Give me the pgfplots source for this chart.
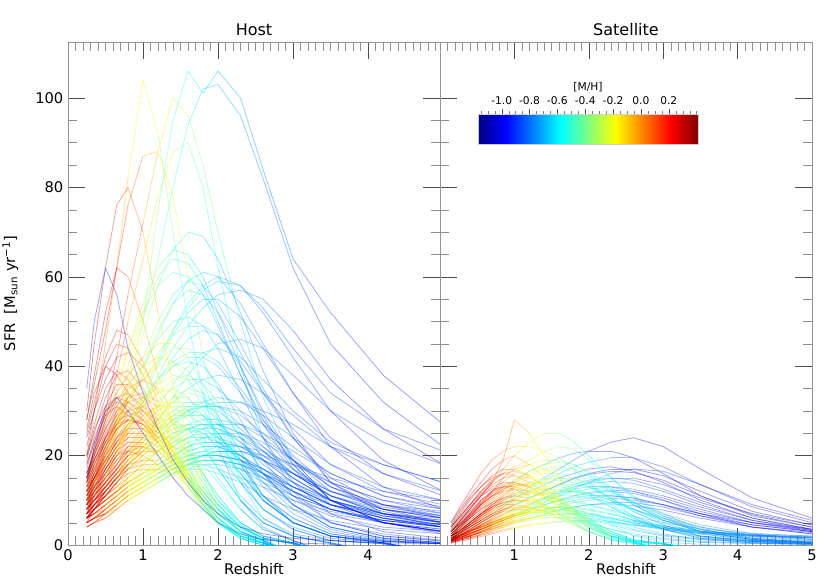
\documentclass[border=0pt]{standalone}
\usepackage{fontspec}
\setmainfont{DejaVu Sans}
\usepackage{pgfplots}
\usepackage{pgfplotstable}
\pgfplotsset{compat=1.18}
\pgfplotsset{
  /pgf/number format/assume math mode=true,
  sfr/.style={mesh, point meta=\thisrow{#1}, line width=0.6pt, opacity=0.38},
  panel/.style={
    scale only axis, width=279pt, height=377.25pt,
    ymin=0, ymax=112.5,
    ytick={0,20,40,60,80,100}, minor y tick num=3,
    xtick={0,1,2,3,4,5}, minor x tick num=9,
    tick align=inside, xtick pos=both, ytick pos=both,
    major tick length=13pt, minor tick length=6.5pt,
    axis line style={gray!85},
    major tick style={black!70},
    minor tick style={black!45},
    colormap/jet, point meta min=-1.17, point meta max=0.41,
    tick label style={font=\fontsize{11}{13}\selectfont},
    label style={font=\fontsize{11}{13}\selectfont},
    title style={font=\fontsize{12}{14}\selectfont, yshift=-4.5pt},
    xlabel style={yshift=5pt},
    xlabel={Redshift},
  }
}
\pgfplotstableread{
name c1 c2 c3 c4 c5 c6 c7 c8 c9 c10 c11 c12 c13 c14 c15 c16 c17
z 0.25 0.35 0.5 0.65 0.8 1.0 1.2 1.4 1.6 1.8 2.0 2.3 2.6 3.0 3.5 4.2 5.0
P0 0.30 0.26 0.18 0.10 0.02 -0.08 -0.19 -0.29 -0.39 -0.48 -0.56 -0.66 -0.73 -0.79 -0.83 -0.86 -0.88
P1 0.40 0.36 0.28 0.20 0.12 0.02 -0.09 -0.19 -0.29 -0.38 -0.46 -0.58 -0.66 -0.73 -0.78 -0.82 -0.85
P2 0.18 0.14 0.06 -0.02 -0.10 -0.20 -0.31 -0.41 -0.51 -0.60 -0.68 -0.75 -0.80 -0.84 -0.87 -0.89 -0.91
P3 0.10 0.05 -0.03 -0.12 -0.20 -0.30 -0.40 -0.50 -0.58 -0.64 -0.70 -0.76 -0.81 -0.87 -0.93 -0.98 -1.02
P4 -0.95 -0.95 -0.95 -0.95 -0.95 -0.95 -0.98 -1.00 -1.02 -1.04 -1.06 -1.08 -1.10 -1.10 -1.10 -1.10 -1.10
E1 8 11 15 19 21 22 21 18 14 9 5 1.5 0 -2 -2 -2 -2
E2 12 16 22 26 28 27 24 20 15 10 6 2 0.5 -2 -2 -2 -2
E3 16 21 28 33 34 31 26 20 14 9 5 1.5 0 -2 -2 -2 -2
E4 20 25 33 38 39 35 28 21 15 9 5 1.5 0 -2 -2 -2 -2
E5 6 9 13 16 18 19 19 17 14 10 6 2 0.5 -2 -2 -2 -2
E6 10 14 19 23 25 25 23 19 15 11 7 3 1 -2 -2 -2 -2
E7 14 19 25 29 30 28 24 19 14 9 5 2 0.5 -2 -2 -2 -2
E8 25 32 42 48 47 41 32 23 16 10 5 1.5 0 -2 -2 -2 -2
E9 9 13 18 22 24 24 22 19 16 12 8 4 1.5 0.5 -2 -2 -2
E10 18 24 30 32 31 28 24 20 16 12 8 4 1.5 0.3 -2 -2 -2
E11 11 15 21 26 29 30 28 24 19 14 9 4 1.5 0.3 -2 -2 -2
E12 22 30 40 45 44 38 30 22 15 9 5 2 0.5 -2 -2 -2 -2
E13 7 10 14 17 20 21 21 20 17 13 9 4 1.5 0.3 -2 -2 -2
E14 15 20 26 30 33 34 32 28 22 16 10 5 2 0.5 -2 -2 -2
E15 28 38 52 62 60 50 38 27 18 11 6 2 0.5 -2 -2 -2 -2
E16 30 45 62 76 80 70 52 36 24 15 8 3 1 -2 -2 -2 -2
E17 13 18 24 28 29 27 23 18 13 8 4.5 1.5 0.3 -2 -2 -2 -2
E18 9 12 17 21 23 23 21 18 14 10 6 2.5 0.8 -2 -2 -2 -2
E19 17 23 31 36 36 33 27 21 15 10 6 2 0.5 -2 -2 -2 -2
E20 6 8 11 14 16 17 17 16 13 9 5.5 2 0.5 -2 -2 -2 -2
E21 20 27 35 39 37 32 26 20 14 9 5 2 0.5 -2 -2 -2 -2
E22 12 17 23 27 30 31 29 25 20 14 9 4 1.5 0.3 -2 -2 -2
E23 8 12 17 20 21 20 18 15 12 8 5 2 0.5 -2 -2 -2 -2
E24 24 30 37 42 43 40 34 27 20 13 8 3 1 -2 -2 -2 -2
E25 10 15 22 28 32 33 31 27 21 15 10 4.5 1.5 0.3 -2 -2 -2
E26 15 19 24 27 28 27 25 22 18 13 9 4 1.5 0.3 -2 -2 -2
E27 7 11 16 20 22 22 20 17 13 8.5 5 1.5 0 -2 -2 -2 -2
E28 19 26 31 33 32 29 25 20 15 10 6 2.5 0.5 -2 -2 -2 -2
E29 10 13 18 24 27 28 26 22 17 12 7 3 1 -2 -2 -2 -2
E30 14 22 29 31 29 26 23 19 15 11 7 3 1 -2 -2 -2 -2
E31 5 8 12 15 17 18 18 17 15 11 7 3 1 -2 -2 -2 -2
E32 26 34 40 38 34 30 26 21 16 11 7 3 1 -2 -2 -2 -2
E33 12 15 20 24 26 26 24 21 17 12 8 3.5 1.2 -2 -2 -2 -2
E34 9 14 21 26 28 27 23 18 13 9 5 2 0.5 -2 -2 -2 -2
E35 16 20 26 31 35 37 35 30 23 16 10 4.5 1.5 -2 -2 -2 -2
E36 11 16 24 30 32 30 26 21 16 11 7 3 1 -2 -2 -2 -2
M1 6 8 10 12 14 16 17 17 15 12 8 3 1 -2 -2 -2 -2
M2 8 10 13 16 19 22 24 24 21 16 11 5 2 0.5 -2 -2 -2
M3 10 13 17 21 25 29 31 31 28 23 17 10 5 2 0.5 -2 -2
M4 12 15 19 23 27 31 34 35 33 29 24 16 10 5 2 0.5 -2
M5 7 9 12 15 18 21 24 26 26 24 20 14 8 4 1.5 0.5 -2
M6 14 18 23 27 30 33 35 34 30 24 18 11 6 2.5 1 0.3 -2
M7 9 12 15 18 21 24 27 29 29 27 23 16 10 5 2 0.8 0.3
M8 16 21 27 32 36 40 42 41 37 31 24 15 8 3.5 1 0.3 -2
M9 11 14 18 22 26 30 34 37 38 36 32 24 16 9 4 1.5 0.5
M10 8 10 13 16 20 24 28 32 34 33 29 21 13 7 3 1 0.3
M11 13 17 22 27 32 37 41 44 44 41 35 25 16 9 4 1.5 0.5
M12 10 13 16 19 22 25 28 30 30 28 25 19 14 9 5 2.5 1
M13 6 8 11 14 17 20 22 22 20 16 11 5 2 0.5 -2 -2 -2
M14 18 23 29 34 38 42 45 45 42 36 29 19 11 5 2 0.5 -2
M15 9 11 14 17 20 23 26 27 26 22 17 10 5 2 0.5 -2 -2
M16 12 15 19 23 26 29 31 32 30 26 21 14 8 3.5 1 0.3 -2
M17 7 9 12 15 18 22 26 29 30 29 25 18 11 6 2.5 0.8 0.3
M18 15 19 24 29 33 37 40 41 39 34 28 19 11 5 2 0.5 -2
M19 10 12 15 18 21 24 26 27 27 25 22 16 10 5 2 0.8 0.3
M20 8 11 14 18 22 26 30 33 35 34 31 24 16 9 4 1.5 0.5
M21 14 17 21 25 29 33 37 40 41 40 36 28 19 11 5 2 0.8
M22 11 14 18 22 27 32 37 42 46 48 47 40 30 19 10 5 2.5
M23 13 17 22 28 34 40 46 50 51 49 44 34 24 14 7 3 1.5
M24 9 12 16 20 23 26 28 28 26 22 17 10 5 2 0.3 -2 -2
M25 11 14 18 22 25 28 31 33 33 30 25 17 10 5 2 0.5 -2
M26 7 9 12 15 18 21 23 24 23 20 15 8 3.5 1 -2 -2 -2
M27 13 16 20 24 28 32 36 38 37 33 27 18 10 5 2 0.5 -2
M28 8 10 13 17 21 25 29 31 31 29 25 18 11 6 2.5 1 0.3
M29 10 13 17 21 24 27 30 32 32 31 28 21 14 8 3.5 1.2 0.4
M30 6 8 11 14 17 19 21 22 21 18 14 8 3.5 1 -2 -2 -2
L1 5 6 8 10 12 14 16 18 19 20 20 19 17 14 10 7 5
L2 7 9 11 13 15 18 21 24 26 27 27 25 22 17 12 8 6
L3 9 11 14 17 20 23 27 30 32 32 31 27 22 16 11 7 5
L4 6 8 10 12 14 16 19 22 24 26 27 27 25 21 16 11 8
L5 10 13 16 20 24 28 32 35 37 37 35 30 24 17 11 7 5
L6 8 10 13 15 18 21 24 27 30 32 33 32 29 24 18 13 10
L7 12 15 19 23 27 32 37 41 43 43 41 35 28 20 13 8 6
L8 5 6 8 10 12 14 16 18 20 21 22 22 21 18 14 10 7
L9 7 9 11 14 17 20 23 25 26 26 24 20 16 11 7 5 3.5
L10 14 18 23 28 33 38 43 47 49 49 47 41 34 26 18 12 9
L11 6 7 9 11 13 15 17 19 20 20 19 17 14 11 8 5.5 4
L12 9 11 14 17 20 24 28 32 35 37 38 37 34 29 22 16 12
L13 11 14 18 22 26 31 36 40 42 42 40 34 27 19 12 8 6
L14 4 5 7 9 11 13 15 17 19 20 21 21 20 18 15 12 10
L15 8 10 12 15 18 21 24 27 29 31 32 32 30 27 22 18 14
L16 10 12 15 18 22 26 31 36 40 43 44 42 37 30 23 18 14
L17 7 9 12 15 19 23 28 33 38 42 45 46 44 38 30 23 18
L18 12 15 20 25 30 36 42 48 53 57 59 58 53 44 34 26 21
L19 6 8 10 12 14 16 18 20 21 22 22 20 17 13 9 6 4.5
L20 8 10 13 16 19 22 26 29 31 31 30 26 21 15 10 6.5 4.5
T1 5 6 7 9 11 13 15 17 18 19 19 18 16 13 9 6 4
T2 6 7 9 11 13 15 17 19 21 22 22 20 17 12 8 5 3
T3 4 5 6 8 10 12 14 16 18 19 19 18 15 11 8 5.5 4
T4 7 9 11 14 17 20 23 25 26 25 23 19 15 10 6.5 4 3
T5 5 6 8 10 12 14 16 17 18 18 17 15 13 10 7.5 5.5 4.5
T6 8 10 12 15 18 21 24 26 27 27 26 23 19 14 9 6 4
T7 6 8 10 12 15 18 21 24 26 27 27 25 21 16 11 8 6.5
T8 5 6 7 9 11 13 15 16 17 17 16 14 11 8 5.5 3.5 2.5
T9 9 11 14 17 20 23 26 28 29 29 27 23 18 13 9 7 6
T10 6 7 9 11 13 15 17 19 20 21 21 21 19 16 12 9 7.5
T11 5 6 7 8 10 12 14 16 17 18 18 17 15 12 9 6.5 5
T12 6 7 9 11 13 16 19 21 23 24 24 22 19 14 10 7 5.5
T13 7 8 10 12 15 18 21 23 24 24 23 20 16 12 8 5.5 4
T14 4 5 6 8 10 12 14 16 18 20 21 21 19 16 12 8.5 6.5
T15 8 10 12 15 18 21 25 28 30 31 31 29 25 19 13 9 7
T16 5 6 8 10 12 14 17 20 22 24 25 25 23 19 14 10 8
T17 6 7 8 10 12 14 16 18 19 20 20 19 16 12 8 5 3.5
T18 9 11 13 16 19 22 25 28 30 31 31 30 27 22 16 11 8.5
T19 5 6 8 10 12 14 16 18 19 20 20 19 16 12 8 5 3
T20 7 8 10 12 14 17 20 22 24 25 25 24 21 16 11 7 5
T21 6 7 9 11 13 15 18 20 22 23 23 22 19 15 10 6.5 4.5
T22 4 5 7 9 11 13 15 17 19 20 20 19 17 13 9 6 4
T23 8 9 11 13 16 19 22 25 27 28 28 27 24 19 13 9 6.5
T24 5 6 7 9 11 13 15 17 18 19 19 18 16 13 10 7 5.5
T25 6 8 10 12 14 16 18 20 22 23 23 22 20 16 11 7.5 5
T26 7 9 11 13 15 18 21 23 25 26 26 24 20 15 10 6 4
U1 10 13 18 24 31 39 47 54 59 61 60 54 45 34 22 13 8
U2 9 12 16 21 27 34 41 48 54 58 60 58 52 42 30 19 12
U3 12 16 21 27 34 42 50 56 59 58 54 45 35 24 14 8 5
U4 8 11 15 20 26 32 38 44 49 53 56 57 55 48 37 26 18
U5 15 20 27 35 44 52 58 61 60 56 49 38 28 18 10 5 3
H1 12 16 22 30 40 52 60 64 63 58 50 38 27 17 9 5 3
H2 10 14 20 27 36 47 58 66 70 69 64 52 39 25 14 7 4
H3 14 20 28 38 50 64 78 88 90 80 62 40 24 12 5 2 1
H4 10 13 18 25 35 50 75 95 106 101 106 100 84 64 52 38 27
H5 10 14 20 28 38 50 64 80 94 102 103 96 82 62 45 32 22
H6 20 30 45 62 82 104 92 70 50 34 22 10 4 1 -2 -2 -2
H7 15 21 30 42 56 72 88 100 96 85 70 50 33 19 10 5 3
H8 10 14 19 25 32 40 48 54 57 56 52 43 34 24 15 9 6
H9 13 18 25 34 44 54 62 66 65 60 52 40 29 18 10 5 3
H10 8 11 15 20 26 33 40 47 52 55 55 51 44 34 24 16 11
H11 28 36 48 62 76 87 88 78 60 42 28 14 6 2 0.5 -2 -2
H12 35 50 62 56 44 34 26 19 14 10 7 4 2.5 1.5 1 0.5 0.3
D2 15 22 30 33 30 25 20 15 11 8 5 2.5 1.2 0.5 0.2 -2 -2
}\hostraw
\pgfplotstabletranspose[colnames from=name]{\hostT}{\hostraw}
\pgfplotstableread{
name c1 c2 c3 c4 c5 c6 c7 c8 c9 c10 c11 c12 c13 c14 c15 c16 c17 c18
z 0.15 0.25 0.4 0.55 0.7 0.85 1.0 1.2 1.4 1.6 1.8 2.0 2.3 2.6 3.0 3.5 4.2 5.0
S0 0.32 0.28 0.22 0.15 0.08 0.00 -0.08 -0.18 -0.27 -0.36 -0.44 -0.50 -0.58 -0.64 -0.70 -0.74 -0.77 -0.80
S1 0.40 0.36 0.30 0.23 0.16 0.08 0.00 -0.10 -0.19 -0.28 -0.36 -0.43 -0.51 -0.57 -0.63 -0.68 -0.72 -0.75
S2 0.15 0.10 0.04 -0.03 -0.10 -0.18 -0.26 -0.36 -0.46 -0.55 -0.63 -0.70 -0.78 -0.84 -0.90 -0.94 -0.97 -1.00
S3 -0.05 -0.10 -0.18 -0.26 -0.34 -0.42 -0.50 -0.60 -0.68 -0.76 -0.82 -0.88 -0.94 -0.98 -1.02 -1.05 -1.07 -1.10
SE1 2 3.5 6 8 9.5 10.5 11 10.5 9 7 5 3 1 0.3 -1 -1 -1 -1
SE2 3 5 8 11 13 14 14 13 11 8.5 6 4 1.5 0.5 -1 -1 -1 -1
SE3 1.5 2.5 4 5.5 7 8 8.5 8.5 7.5 6 4.5 3 1.2 0.4 -1 -1 -1 -1
SE4 4 6 9 12 14.5 16 16.5 15.5 13 10 7 4.5 2 0.7 -1 -1 -1 -1
SE5 2.5 4 6.5 9 11 12 12.5 12 11 9 7 5 2.5 1 0.3 -1 -1 -1
SE6 5 7.5 11 14 17 19 20 18 15 11 8 5 2 0.7 -1 -1 -1 -1
SE7 3 5 8 11 14 19 28 25 20 15 10 6 3 1 0.3 -1 -1 -1
SE8 2 3 5 7 8.5 9.5 10 10 9 7.5 6 4 2 0.8 0.2 -1 -1 -1
SE9 3.5 5.5 8.5 11 12.5 13 12.5 11 9 7 5 3 1.2 0.4 -1 -1 -1 -1
SE10 1 2 3.5 5 6.5 7.5 8 8 7.5 6.5 5 3.5 1.8 0.7 0.2 -1 -1 -1
SE11 4.5 7 10.5 13 15 16 15.5 14 12 9.5 7 4.5 2 0.7 0.2 -1 -1 -1
SE12 2 3.5 6 9 12 15 17 18 17 15 12 8.5 4.5 2 0.6 0.2 -1 -1
SE13 2.5 4 6.5 9 11 12.5 13.5 13.5 12.5 10.5 8 5.5 2.5 1 0.3 -1 -1 -1
SE14 1.5 3 5 7 8.5 9.5 10 9.5 8.5 7 5.5 4 2 0.8 0.2 -1 -1 -1
SE15 3 5 7.5 10 12 13.5 14 13 11 9 6.5 4 1.8 0.6 -1 -1 -1 -1
SE16 4 6.5 10 13 15.5 17 17 15.5 13 10 7.5 5 2.5 1 0.3 -1 -1 -1
SE17 2 3 5 7 9 10.5 11.5 12 11.5 10 8 6 3 1.2 0.4 -1 -1 -1
SE18 1 2.5 4.5 6.5 8 9 9 8.5 7.5 6 4.5 3 1.3 0.5 -1 -1 -1 -1
SE19 3 4.5 7 9.5 11.5 13 13 12 10.5 8.5 6.5 4.5 2 0.7 -1 -1 -1 -1
SE20 2 4 7 10 12 13 13.5 13 12 10 7.5 5 2.5 1 0.2 -1 -1 -1
SE21 4 6 9 11.5 13.5 15 15.5 15 13.5 11 8 5 2 0.7 -1 -1 -1 -1
SE22 1.5 2.5 4.5 6.5 8.5 10 11 11.5 11 9.5 7.5 5.5 3 1.2 0.3 -1 -1 -1
SM1 1.5 2.5 4 5.5 7 8.5 10 11.5 12.5 12.5 12 11 8.5 6 3.5 1.5 0.5 0.2
SM2 2 3 5 7 9 11 13 15 16 16 15 13.5 10.5 7.5 4.5 2 0.8 0.3
SM3 1 2 3 4 5 6 7 8 8.5 8.5 8 7 5.5 4 2.5 1.2 0.5 0.2
SM4 2.5 4 6 8 10 12 14 16.5 18 18.5 18 16.5 13 9.5 6 3 1.2 0.5
SM5 1.5 2.5 4 6 7.5 9 10.5 12 13 13.5 13.5 13 11.5 9.5 7 4.5 2.5 1.2
SM6 3 4.5 7 9.5 12 14 16 18 19 19 18 16 12.5 9 5.5 3 1.2 0.4
SM7 1 1.5 2.5 3.5 4.5 5.5 6.5 7.5 8 8.5 8.5 8 7 5.5 4 2.5 1.3 0.6
SM8 2 3.5 5.5 7.5 9.5 11.5 13 14 14 13.5 12.5 11 8.5 6 3.5 1.8 0.7 0.3
SM9 1.2 2 3.2 4.5 5.8 7 8.2 9.5 10.5 11 11 10.5 9.5 8 6 4 2.2 1.2
SM10 4 6 9 12 14 16 17.5 19 21 22 21.5 19 15 11 7 3.5 1.5 0.5
SM11 5 8 12 16 19 21 22 22 21 19.5 17 14 10 6.5 3.5 1.5 0.5 0.2
SM12 0.8 1.2 2 3 4 4.8 5.5 6 6.2 6 5.5 4.8 3.5 2.5 1.5 0.8 0.4 0.2
SM13 1 1.8 3 4.2 5.2 6 6.8 7.2 7.2 6.8 6 5 3.5 2.2 1.2 0.6 0.3 0.1
SM14 3 5 8 11 14 17 20 23 25 25 23 20 15 10.5 6.5 3 1.2 0.4
SM15 2 3 4.5 6 8 10 11.5 13 14 14.5 14 13 10.5 8 5 2.5 1 0.4
SM16 1.5 2.5 3.5 5 6.5 8 9.5 10.5 11.5 12 12 11.5 10 8 5.5 3 1.5 0.6
SM17 2.5 4 6 8.5 10.5 12.5 14 15.5 16.5 17 16.5 15 12 9 6 3.5 1.5 0.6
SM18 1 2 3.5 5 6.5 8 9 10 10.5 10.5 10 9 7.5 5.5 3.5 2 1 0.5
SM19 2 3 4.5 6.5 8.5 10.5 12 13.5 14.5 15 15 14 12 9.5 6.5 4 2 1
SM20 2 3 5 7 9 11 12.5 14 15 15 14.5 13 10.5 7.5 4.5 2 0.8 0.3
SM21 1.5 2.5 4 5.5 7 8.5 10 11.5 12.5 13 12.5 11.5 9 6.5 4 2 0.8 0.3
SM22 3 4.5 6.5 9 11 13 14.5 16 17 17.5 17 15.5 12.5 9 5.5 3 1.2 0.5
SM23 1 1.8 3 4.5 6 7.5 9 10.5 11.5 12 12 11.5 10 8 5.5 3.5 1.8 0.8
SL1 1 1.5 2.5 3.5 4.5 5.5 6.5 8 9.5 11 12 12.5 13 12.5 11 8.5 5.5 3.5
SL2 1.5 2 3 4 5 6 7 8.5 10 11.5 13 14 15 15 13.5 10.5 7 4.5
SL3 1 1.5 2.2 3 4 5 6 7 8 9 10 10.5 11 10.5 9 7 4.5 3
SL4 2 3 4.5 6 7.5 9 10.5 12.5 14.5 16 17.5 18.5 19.5 19.5 17.5 13.5 8.5 5
SL5 1 1.5 2.5 3.5 4.5 5.5 6.5 8 9.5 11 12.5 14 16 17 16.5 13.5 9 5.5
SL6 2.5 3.5 5 6.5 8 9.5 11 13 15 17 19 21 23 24 22 17 10.5 6
SL7 1.5 2.2 3.2 4.3 5.4 6.5 7.6 9 10.3 11.5 12.5 13 13 12 10 7 4 2.5
SL8 0.8 1.2 1.8 2.5 3.2 4 4.8 5.8 6.8 7.8 8.5 9 9.5 9.5 8.5 6.5 4.5 3
SL9 2 3 4.5 6 7.5 9 10.5 12 13.5 15 16 17 17.5 16.5 14 10 6 3.5
SL10 1.2 1.8 2.8 3.8 4.8 5.8 6.8 8 9 10 10.5 11 11 10.5 9 6.5 4 2.5
SL11 3 4.5 6.5 8.5 10.5 12.5 14.5 16.5 18 19.5 20.5 21 21 19.5 16 11 6.5 4
SL12 1 1.5 2 2.8 3.5 4.2 5 6 7 7.8 8.5 9 9.2 8.8 7.8 6 4 2.8
SL13 1.5 2 3 4 5 6 7.5 9 10.5 12 13.5 14.5 15 14.5 12.5 9.5 6 3.5
SL14 1 1.5 2.2 3 3.8 4.6 5.5 6.5 7.5 8.5 9.5 10 10.5 10 9 7 5 3.5
SL15 2 2.8 4 5.2 6.5 7.8 9 10.5 12 13.5 15 16 17 17 15.5 12 7.5 4.5
SL16 1.2 1.8 2.6 3.5 4.5 5.5 6.5 7.8 9 10 11 11.5 12 11.5 10 7.5 5 3.2
SL17 1.5 2.2 3.2 4.3 5.4 6.6 7.8 9.2 10.6 12 13 13.8 14.2 13.8 12 9 5.5 3.2
SL18 1 1.5 2.3 3.2 4.2 5.2 6.2 7.5 8.8 10 11 11.8 12.3 12 10.5 8 5 3
SL19 2 2.8 3.8 5 6.3 7.6 9 10.5 12 13.5 14.8 15.8 16.5 16.2 14.5 11 6.8 4
ST1 1 1.5 2.5 3.5 4.5 5.5 6.5 7.5 8 8 7.5 6.5 5 3.5 2.2 1.4 1 0.8
ST2 0.8 1.2 2 3 4 5 6 7 7.5 7.5 7 6 4.5 3.2 2 1.2 0.8 0.6
ST3 1.2 2 3 4 5 6 7 8 8.5 8.5 8 7.2 6 4.8 3.6 2.6 2 1.6
ST4 0.5 1 1.6 2.4 3.2 4 4.8 5.5 6 6.2 6.2 6 5.3 4.5 3.5 2.6 2 1.6
ST5 0.8 1.2 2 2.8 3.6 4.4 5.2 6 6.5 6.8 6.8 6.5 5.8 5 4 3 2.2 1.8
ST6 1 1.6 2.5 3.5 4.5 5.5 6.5 7.2 7.6 7.8 7.6 7 6 5 3.8 2.8 2.2 1.8
ST7 0.6 1 1.6 2.2 2.8 3.4 4 4.6 5 5.3 5.5 5.5 5.2 4.6 3.8 3 2.4 2
ST8 1.2 2 3.2 4.4 5.6 6.8 8 9 9.6 9.8 9.6 9 7.8 6.4 5 3.6 2.6 2
ST9 0.7 1.2 2 2.8 3.6 4.4 5.2 6 6.6 7 7.1 6.9 6.2 5.3 4.2 3.1 2.3 1.7
ST10 1 1.6 2.6 3.6 4.6 5.6 6.6 7.5 8.1 8.4 8.3 7.8 6.8 5.6 4.3 3.1 2.2 1.6
ST11 0.5 0.8 1.3 1.9 2.5 3.1 3.7 4.3 4.8 5.1 5.3 5.3 5 4.4 3.6 2.8 2.1 1.5
}\satraw
\pgfplotstabletranspose[colnames from=name]{\satT}{\satraw}
\begin{document}%
\begin{tikzpicture}
\begin{axis}[panel, name=left, at={(0,0)}, anchor=south west,
  xmin=0, xmax=4.96, title={Host},
  ylabel style={yshift=6pt},
  ylabel={SFR\ \ [M\textsubscript{sun} yr\textsuperscript{−1}]}]
\coordinate (bl) at (rel axis cs:0,0);
\pgfplotsinvokeforeach{L1,L2,L3,L4,L5,L6,L7,L8,L9,L10,L11,L12,L13,L14,L15,L16,L17,L18,L19,L20,T1,T2,T3,T4,T5,T6,T7,T8,T9,T10,T11,T12,T13,T14,T15,T16,T17,T18,T19,T20,T21,T22,T23,T24,T25,T26,H6}{
  \addplot[sfr=P2] table[x=z,y=#1] {\hostT};}
\pgfplotsinvokeforeach{M1,M2,M3,M4,M5,M6,M7,M8,M9,M10,M11,M12,M13,M14,M15,M16,M17,M18,M19,M20,M24,M25,M26,M27,M28,M29,M30,H3}{
  \addplot[sfr=P0] table[x=z,y=#1] {\hostT};}
\pgfplotsinvokeforeach{E1,E2,E3,E4,E5,E6,E7,E8,E9,E10,E11,E12,E13,E14,E15,E16,E17,E18,E19,E20,E21,E22,E23,E24,E25,E26,E27,E28,E29,E30,E31,E32,E33,E34,E35,E36,H7,H11}{
  \addplot[sfr=P1] table[x=z,y=#1] {\hostT};}
\pgfplotsinvokeforeach{H1,H2,H4,H5,H8,H9,H10,M21,M22,M23,U1,U2,U3,U4,U5}{
  \addplot[sfr=P3] table[x=z,y=#1] {\hostT};}
\pgfplotsinvokeforeach{H12,D2}{
  \addplot[sfr=P4] table[x=z,y=#1] {\hostT};}
\end{axis}
\begin{axis}[panel, name=right, at={(left.south east)}, anchor=south west,
  xmin=0, xmax=5, title={Satellite},
  xticklabels={,1,2,3,4,5}, yticklabels={}]
\pgfplotsinvokeforeach{SL1,SL2,SL3,SL4,SL5,SL7,SL8,SL10,SL12,SL13,SL14,SL16,SL17,SL18}{
  \addplot[sfr=S2] table[x=z,y=#1] {\satT};}
\pgfplotsinvokeforeach{SL6,SL9,SL11,SL15,SL19}{
  \addplot[sfr=S3] table[x=z,y=#1] {\satT};}
\pgfplotsinvokeforeach{SM1,SM2,SM3,SM4,SM5,SM6,SM7,SM8,SM9,SM10,SM11,SM12,SM13,SM14,SM15,SM16,SM17,SM18,SM19,SM20,SM21,SM22,SM23,ST1,ST2,ST3,ST4,ST5,ST6,ST7,ST8,ST9,ST10,ST11}{
  \addplot[sfr=S0] table[x=z,y=#1] {\satT};}
\pgfplotsinvokeforeach{SE1,SE2,SE3,SE4,SE5,SE6,SE7,SE8,SE9,SE10,SE11,SE12,SE13,SE14,SE15,SE16,SE17,SE18,SE19,SE20,SE21,SE22}{
  \addplot[sfr=S1] table[x=z,y=#1] {\satT};}
\end{axis}
\begin{axis}[at={(307.5pt,323.25pt)}, anchor=north west,
  scale only axis, width=165pt, height=22.5pt,
  xmin=-1.17, xmax=0.41, ymin=0, ymax=1, enlargelimits=false,
  colormap/jet, point meta min=-1.17, point meta max=0.41,
  ytick=\empty,
  xtick={-1.0,-0.8,-0.6,-0.4,-0.2,0.0,0.2},
  minor xtick={-1.15,-1.1,-1.05,-0.95,-0.9,-0.85,-0.75,-0.7,-0.65,-0.55,-0.5,-0.45,-0.35,-0.3,-0.25,-0.15,-0.1,-0.05,0.05,0.1,0.15,0.25,0.3,0.35,0.4},
  xtick pos=right, xticklabel pos=right, xtick align=outside,
  major tick length=3.5pt, minor tick length=2pt,
  major tick style={black!70}, minor tick style={black!50},
  axis line style={gray!40}, axis on top,
  title={[M/H]},
  title style={font=\fontsize{8}{9}\selectfont, at={(0.5,1)}, anchor=south, yshift=7pt},
  xticklabel style={font=\fontsize{8}{9}\selectfont,
    /pgf/number format/.cd, fixed, fixed zerofill, precision=1}]
\addplot[surf, shader=interp, mesh/cols=2, point meta=explicit] coordinates {
  (-1.17,0) [-1.17] (0.41,0) [0.41]
  (-1.17,1) [-1.17] (0.41,1) [0.41]
};
\end{axis}
\pgfresetboundingbox
\path[use as bounding box] ([shift={(-51pt,-27pt)}]bl) rectangle ([shift={(571.5pt,408.75pt)}]bl);
\end{tikzpicture}%
\end{document}
